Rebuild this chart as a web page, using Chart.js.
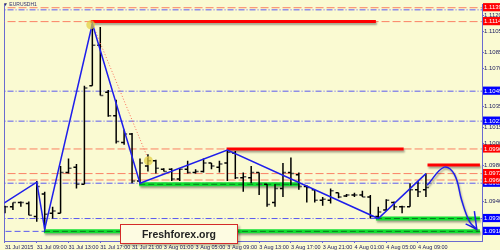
<!DOCTYPE html>
<html>
<head>
<meta charset="utf-8">
<script src="https://cdn.jsdelivr.net/npm/chart.js@4.4.0/dist/chart.umd.min.js"></script>
<style>
  html, body { margin: 0; padding: 0; background: #fafad2; }
  #wrap { position: relative; width: 500px; height: 250px; background: #fafad2; overflow: hidden; }
  #symbol { position: absolute; left: 3px; top: 1px; font: 5px "Liberation Sans", Arial, sans-serif; color: #303070; }
  #brand {
    position: absolute; left: 120px; top: 224px; width: 116px; height: 18px;
    border: 1.5px solid #d42a2a; background: #fdfbe2;
    box-shadow: 2px 2px 2px rgba(0,0,0,0.25);
    font: bold 10.5px "Liberation Sans", Arial, sans-serif; color: #222;
    text-align: center; line-height: 18px;
  }
</style>
</head>
<body>
<div id="wrap">
  <canvas id="chart"></canvas>
  <div id="symbol">&#9660; EURUSDH1</div>
  <div id="brand">Freshforex.org</div>
</div>
<script>
// EURUSD H1 bars, 31 Jul 05:00 .. 4 Aug 10:00
const opens = [
    1.0941, 1.0941, 1.0945, 1.0944, 1.0932, 1.0953, 1.0935, 1.0935, 1.0973, 1.0978,
    1.0962, 1.1054, 1.1092, 1.1048, 1.1026, 1.1001, 1.1009, 1.0965, 1.0979, 1.0984,
    1.0976, 1.0976, 1.0967, 1.0976, 1.0973, 1.0974, 1.0982, 1.0978, 1.0982, 1.0991,
    1.0968, 1.0968, 1.0973, 1.0962, 1.0945, 1.0958, 1.0973, 1.0971, 1.0960, 1.0957,
    1.0947, 1.0947, 1.0954, 1.0951, 1.0952, 1.0952, 1.0950, 1.0932, 1.0938, 1.0945,
    1.0941, 1.0941, 1.0957, 1.0957
];
const highs = [
    1.0942, 1.0945, 1.0946, 1.0946, 1.0965, 1.0955, 1.0941, 1.0979, 1.0986, 1.0981,
    1.1054, 1.1112, 1.1109, 1.1050, 1.1041, 1.1013, 1.1010, 1.0986, 1.0990, 1.0985,
    1.0977, 1.0977, 1.0977, 1.0984, 1.0976, 1.0986, 1.0982, 1.0984, 1.0994, 1.0993,
    1.0973, 1.0979, 1.0973, 1.0962, 1.0962, 1.0982, 1.0987, 1.0973, 1.0961, 1.0957,
    1.0950, 1.0958, 1.0954, 1.0953, 1.0954, 1.0956, 1.0952, 1.0941, 1.0948, 1.0946,
    1.0942, 1.0963, 1.0965, 1.0972
];
const lows = [
    1.0935, 1.0938, 1.0941, 1.0933, 1.0927, 1.0920, 1.0930, 1.0935, 1.0972, 1.0958,
    1.0962, 1.1054, 1.1045, 1.1025, 1.1000, 1.0999, 1.0963, 1.0963, 1.0974, 1.0972,
    1.0974, 1.0965, 1.0965, 1.0972, 1.0972, 1.0973, 1.0976, 1.0973, 1.0965, 1.0967,
    1.0955, 1.0963, 1.0952, 1.0941, 1.0941, 1.0950, 1.0961, 1.0957, 1.0945, 1.0945,
    1.0942, 1.0944, 1.0949, 1.0950, 1.0950, 1.0950, 1.0930, 1.0930, 1.0938, 1.0938,
    1.0935, 1.0941, 1.0950, 1.0950
];
const closes = [
    1.0941, 1.0945, 1.0945, 1.0933, 1.0960, 1.0934, 1.0937, 1.0973, 1.0977, 1.0962,
    1.1052, 1.1092, 1.1045, 1.1026, 1.1002, 1.1009, 1.0965, 1.0982, 1.0984, 1.0977,
    1.0974, 1.0967, 1.0976, 1.0973, 1.0974, 1.0982, 1.0979, 1.0981, 1.0992, 1.0968,
    1.0969, 1.0973, 1.0962, 1.0943, 1.0958, 1.0973, 1.0972, 1.0960, 1.0959, 1.0947,
    1.0948, 1.0956, 1.0950, 1.0952, 1.0952, 1.0950, 1.0932, 1.0936, 1.0947, 1.0941,
    1.0941, 1.0957, 1.0955, 1.0959
];

const xTickIdx = [0, 4, 8, 12, 16, 20, 24, 28, 32, 36, 40, 44, 48, 52];
const xTickLabels = [
    '31 Jul 2015', '31 Jul 09:00', '31 Jul 13:00', '31 Jul 17:00', '31 Jul 21:00',
    '3 Aug 01:00', '3 Aug 05:00', '3 Aug 09:00', '3 Aug 13:00', '3 Aug 17:00',
    '3 Aug 21:00', '4 Aug 01:00', '4 Aug 05:00', '4 Aug 09:00'
];

const priceTicks = [1.1120, 1.1105, 1.1085, 1.1070, 1.1035, 1.1015, 1.1000, 1.0980, 1.0946, 1.0916];
const boxValues = [1.1127, 1.1114, 1.1049, 1.1021, 1.0995, 1.0972, 1.0966, 1.0963, 1.0930, 1.0918];
const boxTexts = ['1.1139', '1.1114', '1.1049', '1.1021', '1.0996', '1.0972', '1.0966', '1.0963', '1.0930', '1.0918'];
const boxColors = ['#ff0000', '#ff0000', '#0000ff', '#0000ff', '#ff0000', '#ff0000', '#ff0000', '#0000ff', '#0000ff', '#0000ff'];

// levels
const dashedLevels = [1.1127, 1.1114, 1.0995, 1.0972, 1.0966];
const dashDotLevels = [1.1125, 1.1049, 1.1021, 1.0963, 1.0930];
const dashedBlueLevels = [1.0918];
const redLevels = [1.1114, 1.0995, 1.0980];
const redFrom = [10.8, 27.9, 53.2];
const redTo = [46.7, 50.2, 59.8];
const greenLevels = [1.0962, 1.0930, 1.0918];
const greenFrom = [16.9, 46.7, 4.9];
const greenTo = [37.1, 59.8, 59.8];

// zigzag and forecast
const zigX = [-0.19, 4, 5, 11, 17, 28, 47, 53];
const zigY = [1.0944, 1.0964, 1.0920, 1.1112, 1.0963, 1.0994, 1.0930, 1.0972];
const fcX = [53.15, 55.3, 56.6, 57.5, 58.5, 59.4];
const fcY = [1.0961, 1.0978, 1.0971, 1.0947, 1.0927, 1.0920];
const arrowX = [59.1, 59.4, 58.0];
const arrowY = [1.0937, 1.0920, 1.0925];
const dotLineX = [11, 18.06];
const dotLineY = [1.1112, 1.0985];
const markX = [10.8, 18.06];
const markY = [1.1111, 1.0984];

const X_MIN = -0.06, X_MAX = 60.06;
const family = '"Liberation Sans", Arial, sans-serif';
const axisColor = '#6a6ad0';
const textColor = '#202060';

function hLine(v, from, to, style) {
    return Object.assign({
        data: [{ x: from, y: v }, { x: to, y: v }],
        pointRadius: 0,
        fill: false
    }, style);
}

function buildBars() {
    const hl = [], op = [], cl = [];
    opens.forEach((o, i) => {
        hl.push({ x: i, y: lows[i] }, { x: i, y: highs[i] }, { x: i, y: null });
        op.push({ x: i - 0.38, y: o }, { x: i, y: o }, { x: i, y: null });
        cl.push({ x: i, y: closes[i] }, { x: i + 0.38, y: closes[i] }, { x: i, y: null });
    });
    const base = { pointRadius: 0, spanGaps: false, borderWidth: 1.5, order: 5 };
    return [
        Object.assign({ data: hl, borderColor: '#000' }, base),
        Object.assign({ data: op, borderColor: '#000' }, base),
        Object.assign({ data: cl, borderColor: '#555' }, base)
    ];
}

function buildDatasets() {
    const sets = [];
    dashedLevels.forEach(v => sets.push(hLine(v, X_MIN - 1, X_MAX + 1,
        { borderColor: 'rgb(250,128,100)', borderWidth: 1, borderDash: [8, 3], order: 10 })));
    dashDotLevels.forEach(v => sets.push(hLine(v, X_MIN - 1, X_MAX + 1,
        { borderColor: 'rgb(90,90,240)', borderWidth: 1, borderDash: [6, 2, 1, 2], order: 10 })));
    dashedBlueLevels.forEach(v => sets.push(hLine(v, X_MIN - 1, X_MAX + 1,
        { borderColor: 'rgb(90,90,240)', borderWidth: 1, borderDash: [6, 3], order: 10 })));
    redLevels.forEach((v, i) => sets.push(hLine(v, redFrom[i], redTo[i],
        { borderColor: '#ff0000', borderWidth: 3, shadow: true, order: 8 })));
    greenLevels.forEach((v, i) => {
        sets.push(hLine(v, greenFrom[i], greenTo[i],
            { borderColor: '#10e030', borderWidth: 4, shadow: true, order: 8 }));
        sets.push(hLine(v, greenFrom[i], greenTo[i],
            { borderColor: '#0a7a20', borderWidth: 1, borderDash: [6, 3], order: 7 }));
    });
    sets.push(...buildBars());
    sets.push({
        data: dotLineX.map((x, i) => ({ x, y: dotLineY[i] })),
        borderColor: 'rgb(250,110,90)', borderWidth: 1, borderDash: [1, 2], pointRadius: 0, order: 4
    });
    sets.push({
        data: zigX.map((x, i) => ({ x, y: zigY[i] })),
        borderColor: 'rgb(30,30,235)', borderWidth: 1.5, pointRadius: 0, order: 3
    });
    sets.push({
        data: fcX.map((x, i) => ({ x, y: fcY[i] })),
        borderColor: 'rgb(30,30,235)', borderWidth: 1.5, pointRadius: 0, tension: 0.4,
        shadow: true, order: 3
    });
    sets.push({
        data: arrowX.map((x, i) => ({ x, y: arrowY[i] })),
        borderColor: 'rgb(30,30,235)', borderWidth: 1.5, pointRadius: 0, order: 3
    });
    sets.push({
        data: markX.map((x, i) => ({ x, y: markY[i] })),
        showLine: false, pointRadius: 4.5, pointBorderWidth: 0,
        pointBackgroundColor: 'rgba(225,205,60,0.7)', order: 2
    });
    return sets;
}

const shadowPlugin = {
    id: 'shadow',
    beforeDatasetDraw(chart, args) {
        if (!chart.data.datasets[args.index].shadow) return;
        const ctx = chart.ctx;
        ctx.save();
        ctx.shadowColor = 'rgba(0,0,0,0.35)';
        ctx.shadowOffsetX = 1;
        ctx.shadowOffsetY = 2;
        ctx.shadowBlur = 2;
    },
    afterDatasetDraw(chart, args) {
        if (chart.data.datasets[args.index].shadow) chart.ctx.restore();
    }
};

function boxIndex(v) {
    return boxValues.indexOf(v);
}

document.addEventListener('DOMContentLoaded', () => {
    new Chart(document.getElementById('chart'), {
        type: 'line',
        data: { datasets: buildDatasets() },
        plugins: [shadowPlugin],
        options: {
            responsive: true,
            maintainAspectRatio: false,
            animation: false,
            events: [],
            layout: { padding: 0 },
            plugins: { legend: { display: false }, tooltip: { enabled: false } },
            scales: {
                x: {
                    type: 'linear',
                    min: X_MIN,
                    max: X_MAX,
                    afterBuildTicks: s => { s.ticks = xTickIdx.map(v => ({ value: v })); },
                    afterFit: s => { s.height = 9; s.paddingLeft = 0; s.paddingRight = 0; },
                    ticks: {
                        autoSkip: false, maxRotation: 0, minRotation: 0, align: 'start', padding: 1,
                        font: { size: 5.5, family }, color: textColor,
                        callback: v => xTickLabels[xTickIdx.indexOf(v)]
                    },
                    grid: { drawOnChartArea: false, tickLength: 2, color: axisColor },
                    border: { color: axisColor }
                },
                y: {
                    position: 'right',
                    min: 1.0909,
                    max: 1.1130,
                    afterBuildTicks: s => {
                        s.ticks = priceTicks.concat(boxValues).sort((a, b) => a - b).map(v => ({ value: v }));
                    },
                    afterFit: s => { s.width = 18; s.paddingTop = 0; s.paddingBottom = 0; },
                    ticks: {
                        autoSkip: false, padding: 0,
                        font: { size: 6, family },
                        color: ctx => boxIndex(ctx.tick.value) >= 0 ? '#ffffff' : textColor,
                        showLabelBackdrop: ctx => boxIndex(ctx.tick.value) >= 0,
                        backdropColor: ctx => boxColors[boxIndex(ctx.tick.value)] || 'transparent',
                        backdropPadding: { left: 1, right: 2, top: 1, bottom: 0 },
                        callback: v => {
                            const b = boxIndex(v);
                            return b >= 0 ? boxTexts[b] : v.toFixed(4);
                        }
                    },
                    grid: { drawOnChartArea: false, tickLength: 2, color: axisColor },
                    border: { color: axisColor }
                },
                yL: {
                    position: 'left',
                    afterFit: s => { s.width = 1; s.paddingTop = 0; s.paddingBottom = 0; },
                    ticks: { display: false },
                    grid: { drawOnChartArea: false, drawTicks: false, color: axisColor },
                    border: { color: axisColor }
                }
            }
        }
    });
});
</script>
</body>
</html>
